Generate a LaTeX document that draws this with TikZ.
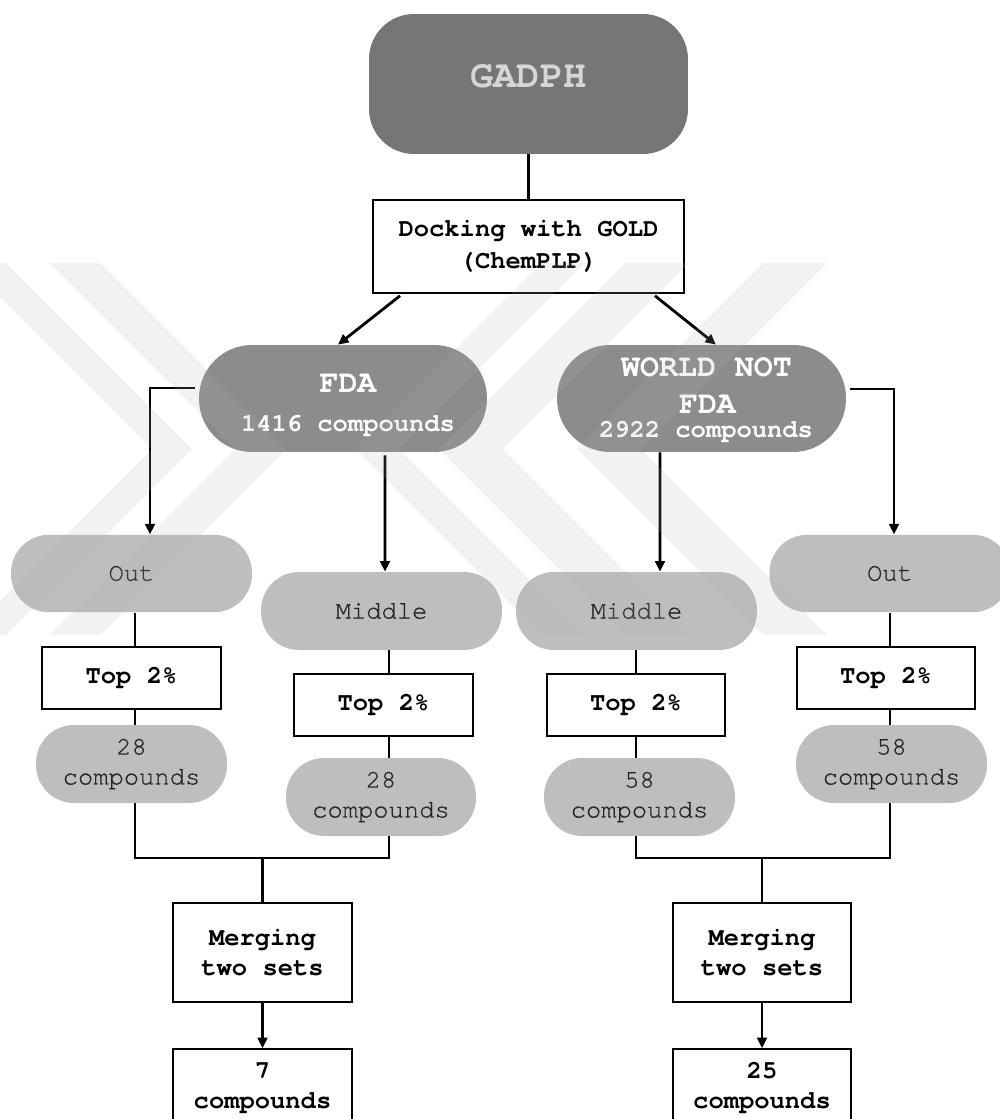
\documentclass[tikz,border=0pt]{standalone}
\usepackage{fontspec}
\newfontfamily\cour{TeX Gyre Cursor}
\newfontfamily\courreg[FakeBold=0.6]{TeX Gyre Cursor}
\usetikzlibrary{arrows.meta,calc}
\definecolor{gadphfill}{HTML}{767676}
\definecolor{gadphtext}{HTML}{D6D6D6}
\definecolor{darkfill}{HTML}{8C8C8C}
\definecolor{lightfill}{HTML}{BEBEBE}
\definecolor{pilltext}{HTML}{262626}
\definecolor{wmgray}{HTML}{B0B0B0}
\newcommand\fsA{\fontsize{14.5pt}{17pt}\selectfont}
\tikzset{
  gadphbox/.style={fill=gadphfill, rounded corners=0.9cm, minimum width=6.38cm, minimum height=2.8cm, inner sep=0pt},
  darkpill/.style={fill=darkfill, rounded corners=1.06cm, minimum width=5.76cm, minimum height=2.14cm, inner sep=0pt},
  lightpill/.style={fill=lightfill, rounded corners=0.76cm, minimum height=1.55cm, inner sep=0pt, text=pilltext, font=\courreg\fsA, align=center},
  wbox/.style={draw=black, fill=white, line width=0.9pt, inner sep=0pt, font=\cour\bfseries\fsA, align=center},
  bigwhite/.style={anchor=base, inner sep=0pt, text=white, font=\cour\bfseries\fontsize{18pt}{20pt}\selectfont},
  smallwhite/.style={anchor=base, inner sep=0pt, text=white, font=\cour\bfseries\fontsize{14.5pt}{17pt}\selectfont},
  conn/.style={line width=1.6pt, draw=black},
  arr/.style={conn, -{Triangle[length=6pt,width=5.5pt]}},
  wm/.style={fill=wmgray, fill opacity=0.16},
}
\begin{document}
\begin{tikzpicture}[x=0.02cm, y=-0.02cm]
\useasboundingbox (0,0) rectangle (1000,1119);
\fill[white] (0,0) rectangle (1000,1119);

% column coordinates
\coordinate (c1) at (135,0);
\coordinate (c2) at (389,0);
\coordinate (c3) at (636,0);
\coordinate (c4) at (890,0);
\coordinate (jL) at (262.5,858);
\coordinate (jR) at (762,858);

% top
\node[gadphbox] (gadph) at (528.5,84) {};
\node[anchor=base, inner sep=0pt, text=gadphtext, font=\cour\bfseries\fontsize{22pt}{26pt}\selectfont] (gadphT) at (528.5,87) {GADPH};
\node[wbox, minimum width=6.22cm, minimum height=1.86cm, font=\cour\bfseries\fontsize{14.5pt}{18.1pt}\selectfont] (dock) at (528.5,246.5) {Docking with GOLD\\(ChemPLP)};

% second level
\node[darkpill] (fda) at (343,398.5) {};
\node[bigwhite] (fdaT1) at (348,392) {FDA};
\node[smallwhite] (fdaT2) at (348,431) {1416 compounds};
\node[darkpill, minimum width=5.78cm] (world) at (701.5,398.5) {};
\node[bigwhite] (worldT1) at (706.5,376) {WORLD NOT};
\node[bigwhite] (worldT2) at (707.5,413) {FDA};
\node[smallwhite] (worldT3) at (706,437) {2922 compounds};

% third level
\node[lightpill, minimum width=4.82cm] (outL) at (131.5,573.5) {Out};
\node[lightpill, minimum width=4.82cm, minimum height=1.56cm] (midL) at (381.5,611) {Middle};
\node[lightpill, minimum width=4.82cm, minimum height=1.56cm] (midR) at (636.5,611) {Middle};
\node[lightpill, minimum width=4.82cm] (outR) at (890,573.5) {Out};

% top 2% boxes
\node[wbox, minimum width=3.58cm, minimum height=1.24cm] (topL1) at (131.5,678) {Top 2\%};
\node[wbox, minimum width=3.58cm, minimum height=1.24cm] (topL2) at (383.5,705) {Top 2\%};
\node[wbox, minimum width=3.56cm, minimum height=1.24cm] (topR2) at (636,705) {Top 2\%};
\node[wbox, minimum width=3.56cm, minimum height=1.24cm] (topR1) at (886,678) {Top 2\%};

% compound pills
\node[lightpill, minimum width=3.82cm, minimum height=1.56cm] (c28L) at (131.5,764) {28\\compounds};
\node[lightpill, minimum width=3.80cm, minimum height=1.56cm] (c28L2) at (381,797) {28\\compounds};
\node[lightpill, minimum width=3.82cm, minimum height=1.56cm] (c58R2) at (639.5,797) {58\\compounds};
\node[lightpill, minimum width=3.82cm, minimum height=1.56cm] (c58R) at (891.5,764) {58\\compounds};

% merging and results
\node[wbox, minimum width=3.58cm, minimum height=1.98cm] (mergeL) at (262.5,952.5) {Merging\\two sets};
\node[wbox, minimum width=3.56cm, minimum height=1.98cm] (mergeR) at (762,952.5) {Merging\\two sets};
\node[wbox, minimum width=3.58cm, minimum height=1.56cm] (res7) at (262.5,1088) {7\\compounds};
\node[wbox, minimum width=3.56cm, minimum height=1.56cm] (res25) at (762,1088) {25\\compounds};

% connectors
\draw[conn] (gadph.south) -- (dock.north);
\draw[arr] ([xshift=-2.57cm,yshift=-0.04cm]dock.south) -- ([xshift=-0.1cm]fda.north);
\draw[arr] ([xshift=2.53cm,yshift=-0.04cm]dock.south) -- ([xshift=0.29cm]world.north);
\draw[arr] ([xshift=-0.08cm,yshift=0.21cm]fda.west) -| ([xshift=0.37cm]outL.north);
\draw[arr] ([xshift=0.84cm,yshift=-0.06cm]fda.south) -- ([xshift=0.07cm]midL.north);
\draw[arr] ([xshift=-0.83cm]world.south) -- ([xshift=0.47cm]midR.north);
\draw[arr] ([xshift=0.08cm,yshift=0.19cm]world.east) -| ([xshift=0.08cm]outR.north);

\draw[conn] (outL.south -| c1) -- (topL1.north -| c1);
\draw[conn] (topL1.south -| c1) -- (c28L.north -| c1);
\draw[conn] (midL.south -| c2) -- (topL2.north -| c2);
\draw[conn] (topL2.south -| c2) -- (c28L2.north -| c2);
\draw[conn] (midR.south -| c3) -- (topR2.north -| c3);
\draw[conn] (topR2.south -| c3) -- (c58R2.north -| c3);
\draw[conn] (outR.south -| c4) -- (topR1.north -| c4);
\draw[conn] (topR1.south -| c4) -- (c58R.north -| c4);

\draw[conn] (c28L.south -| c1) |- (jL) -| (c28L2.south -| c2);
\draw[conn] (jL) -- (mergeL.north);
\draw[conn] (c58R2.south -| c3) |- (jR) -| (c58R.south -| c4);
\draw[conn] (jR) -- (mergeR.north);
\draw[arr] (mergeL.south) -- (res7.north);
\draw[arr] (mergeR.south) -- (res25.north);

% faint watermark
\fill[wm] (50,263) -- (100,263) -- (286,449) -- (100,635) -- (50,635) -- (236,449) -- cycle;
\fill[wm] (-34,263) -- (6,263) -- (192,449) -- (6,635) -- (-34,635) -- (152,449) -- cycle;
\fill[wm] (763,263) -- (827,263) -- (641,449) -- (827,635) -- (763,635) -- (577,449) -- cycle;
\fill[wm] (625,263) -- (689,263) -- (503,449) -- (689,635) -- (625,635) -- (439,449) -- cycle;
\fill[wm] (542,263) -- (585,263) -- (399,449) -- (585,635) -- (542,635) -- (356,449) -- cycle;
\end{tikzpicture}
\end{document}
